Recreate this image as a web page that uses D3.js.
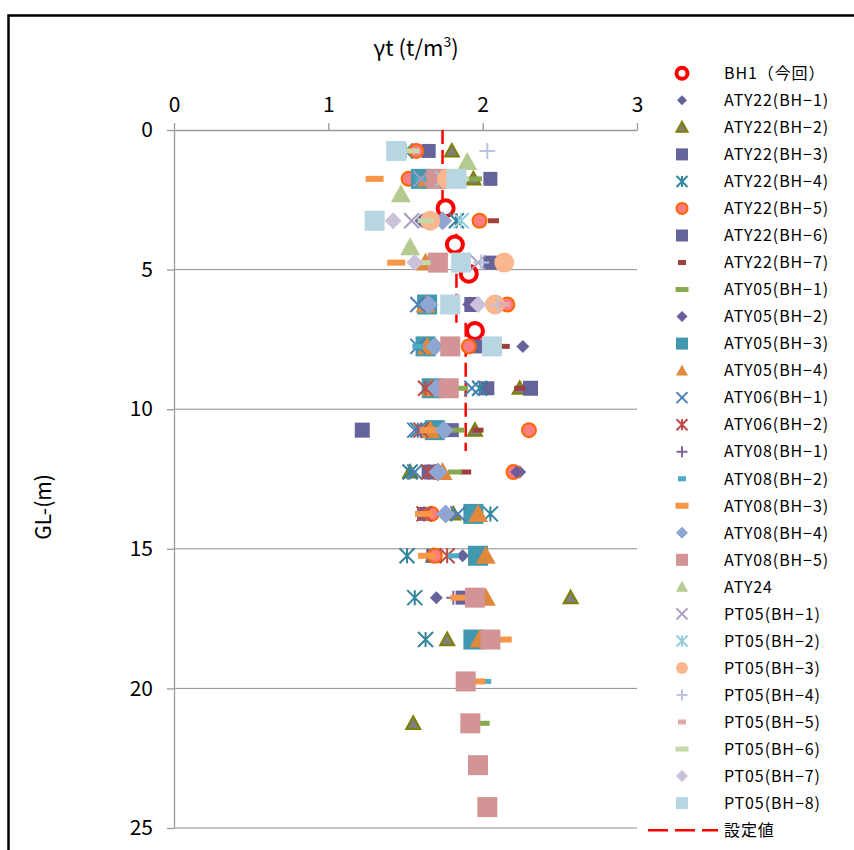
<!DOCTYPE html>
<html><head><meta charset="utf-8">
<script src="https://cdn.jsdelivr.net/npm/d3@7"></script>
<style>body{margin:0;background:#fff}</style>
</head><body>
<svg id="c" width="854" height="850"></svg>
<script>
// ---- tick labels / axes ----
const xTicks = [0, 1, 2, 3];
const yTicks = [0, 5, 10, 15, 20, 25];
const xTitle = "γt (t/m";
const yTitle = "GL-(m)";

// ---- series values: [γt, depth] ----
const bh1       = [[1.76,2.8],[1.82,4.1],[1.91,5.15],[1.95,7.2]];
const aty22_bh1 = [[1.62,1.75],[1.60,3.25],[1.91,6.25],[2.26,7.75],[1.72,10.75],[2.24,12.25],[1.87,15.25],[1.70,16.75]];
const aty22_bh2 = [[1.80,0.75],[1.94,1.75],[2.24,9.25],[1.95,10.75],[1.53,12.25],[1.81,13.75],[1.68,15.25],[2.57,16.75],[1.77,18.25],[1.55,21.25]];
const aty22_bh3 = [[1.65,0.75],[2.05,1.75],[1.65,3.25],[2.05,4.75],[1.96,7.75],[2.03,9.25],[1.80,10.75],[1.65,12.25],[1.62,13.75],[1.68,15.25],[1.87,16.75]];
const aty22_bh4 = [[1.50,0.75],[1.83,3.25],[1.98,9.25],[1.58,10.75],[1.53,12.25],[2.05,13.75],[1.51,15.25],[1.56,16.75],[1.63,18.25]];
const aty22_bh5 = [[1.57,0.75],[1.52,1.75],[1.98,3.25],[2.16,6.25],[1.91,7.75],[2.30,10.75],[2.20,12.25],[1.67,13.75],[1.69,15.25]];
const aty22_bh6 = [[1.66,1.75],[1.93,6.25],[2.31,9.25],[1.22,10.75],[1.67,12.25]];
const aty22_bh7 = [[2.07,3.25],[2.14,7.75],[2.24,9.25],[1.97,10.75],[1.89,12.25]];
const aty05_bh1 = [[1.95,1.75],[1.86,9.25],[1.84,10.75],[1.82,12.25],[1.97,19.75],[2.00,21.25]];
const aty05_bh2 = [[1.62,1.75],[1.66,3.25],[1.93,6.25],[2.22,12.25]];
const aty05_bh3 = [[1.60,1.75],[1.64,6.25],[1.63,7.75],[1.67,9.25],[1.69,10.75],[1.94,13.75],[1.97,15.25],[1.94,18.25]];
const aty05_bh4 = [[1.64,1.75],[1.63,4.75],[1.63,6.25],[1.64,7.75],[1.67,9.25],[1.66,10.75],[1.74,12.25],[1.97,13.75],[2.02,15.25],[2.02,16.75],[1.98,18.25]];
const aty06_bh1 = [[1.58,6.25],[1.58,7.75],[1.93,9.25],[1.56,10.75],[1.56,12.25],[1.84,13.75]];
const aty06_bh2 = [[1.63,9.25],[1.60,10.75],[1.65,12.25],[1.62,13.75],[1.77,15.25]];
const aty08_bh1 = [[1.60,10.75],[1.81,16.75]];
const aty08_bh2 = [[1.60,1.75],[1.58,7.75],[1.81,15.25],[2.02,19.75]];
const aty08_bh3 = [[1.30,1.75],[1.44,4.75],[1.65,10.75],[1.62,13.75],[1.64,15.25],[1.85,16.75],[2.13,18.25],[1.96,19.75]];
const aty08_bh4 = [[1.74,3.25],[1.65,6.25],[1.69,7.75],[1.70,9.25],[1.75,10.75],[1.71,12.25],[1.76,13.75]];
const aty08_bh5 = [[1.70,1.75],[1.71,4.75],[1.79,7.75],[1.78,9.25],[1.95,16.75],[2.05,18.25],[1.89,19.75],[1.92,21.25],[1.97,22.75],[2.03,24.25]];
const aty24     = [[1.90,1.15],[1.47,2.3],[1.53,4.2]];
const pt05_bh1  = [[1.60,1.75],[1.54,3.25],[1.97,4.75]];
const pt05_bh2  = [[1.74,1.75],[1.86,3.25]];
const pt05_bh3  = [[1.77,1.75],[1.66,3.25],[2.14,4.75],[2.08,6.25]];
const pt05_bh4  = [[2.03,0.75],[1.99,4.75],[2.10,6.25]];
const pt05_bh5  = [[2.14,6.25]];
const pt05_bh6  = [[1.54,0.75],[1.86,1.75],[1.63,3.25],[1.61,4.75]];
const pt05_bh7  = [[1.42,3.25],[1.56,4.75],[1.97,6.25]];
const pt05_bh8  = [[1.44,0.75],[1.83,1.75],[1.30,3.25],[1.86,4.75],[1.79,6.25],[2.06,7.75]];
// design value (設定値): separate vertical segments, null = gap
const design    = [[1.74,0],[1.74,3.0],null,[1.83,3.0],[1.83,6.9],null,[1.89,6.9],[1.89,11.5]];

const seriesNames = ["BH1（今回）","ATY22(BH−1)","ATY22(BH−2)","ATY22(BH−3)","ATY22(BH−4)","ATY22(BH−5)","ATY22(BH−6)","ATY22(BH−7)",
  "ATY05(BH−1)","ATY05(BH−2)","ATY05(BH−3)","ATY05(BH−4)","ATY06(BH−1)","ATY06(BH−2)",
  "ATY08(BH−1)","ATY08(BH−2)","ATY08(BH−3)","ATY08(BH−4)","ATY08(BH−5)","ATY24",
  "PT05(BH−1)","PT05(BH−2)","PT05(BH−3)","PT05(BH−4)","PT05(BH−5)","PT05(BH−6)","PT05(BH−7)","PT05(BH−8)"];
const seriesData = [bh1,aty22_bh1,aty22_bh2,aty22_bh3,aty22_bh4,aty22_bh5,aty22_bh6,aty22_bh7,
  aty05_bh1,aty05_bh2,aty05_bh3,aty05_bh4,aty06_bh1,aty06_bh2,
  aty08_bh1,aty08_bh2,aty08_bh3,aty08_bh4,aty08_bh5,aty24,
  pt05_bh1,pt05_bh2,pt05_bh3,pt05_bh4,pt05_bh5,pt05_bh6,pt05_bh7,pt05_bh8];
const designName = "設定値";

// ---- marker styles (shape, plot size, legend size, colours) ----
const styles = [
  {shape:"circle",  s:16, ls:11, fill:"#fff", stroke:"#FF0000", sw:4},
  {shape:"diamond", s:13, ls:10, fill:"#65639B"},
  {shape:"triangle",s:14, ls:11, fill:"#7F7F7F", stroke:"#7F7F00", sw:2},
  {shape:"square",  s:14, ls:12, fill:"#64639A"},
  {shape:"star",    s:15, ls:11, stroke:"#31859C", sw:2},
  {shape:"circle",  s:14, ls:11, fill:"#FF7C80", stroke:"#FF6600", sw:2},
  {shape:"square",  s:15, ls:12, fill:"#64639A"},
  {shape:"dash",    s:11, ls:8, dh:5, fill:"#A0403E"},
  {shape:"dash",    s:14, ls:13, dh:5, fill:"#8AA84F"},
  {shape:"diamond", s:13, ls:11, fill:"#6E5B9C"},
  {shape:"square",  s:20, ls:12, fill:"#4198AF"},
  {shape:"triangle",s:20, ls:12, fill:"#E0883C"},
  {shape:"x",       s:15, ls:11, stroke:"#4A7EBB", sw:2},
  {shape:"star",    s:15, ls:11, stroke:"#BE4B48", sw:2},
  {shape:"plus",    s:14, ls:11, stroke:"#7F63A1", sw:2},
  {shape:"dash",    s:11, ls:8, dh:5, fill:"#4BACC6"},
  {shape:"dash",    s:18, ls:13, dh:6, fill:"#F79646"},
  {shape:"diamond", s:19, ls:12, fill:"#8FA5D2"},
  {shape:"square",  s:20, ls:12, fill:"#D29494"},
  {shape:"triangle",s:20, ls:12, fill:"#B4CA91"},
  {shape:"x",       s:15, ls:11, stroke:"#A99BC0", sw:2},
  {shape:"star",    s:15, ls:11, stroke:"#93CEDD", sw:2},
  {shape:"circle",  s:20, ls:12, fill:"#FAB78F"},
  {shape:"plus",    s:16, ls:11, stroke:"#B9C4DF", sw:2},
  {shape:"dash",    s:11, ls:8, dh:5, fill:"#E2AAAA"},
  {shape:"dash",    s:16, ls:13, dh:5, fill:"#C5D9A8"},
  {shape:"diamond", s:17, ls:12, fill:"#CBC2DA"},
  {shape:"square",  s:20, ls:12, fill:"#B8D6E2"}
];

const FONT = "'Noto Sans CJK JP','Noto Sans',sans-serif";
const svg = d3.select("#c");
const x = d3.scaleLinear().domain([0,3]).range([174,637]);
const y = d3.scaleLinear().domain([0,25]).range([130,828]);

// frame
svg.append("rect").attr("x",8.5).attr("y",15.5).attr("width",870).attr("height",870)
  .attr("fill","#fff").attr("stroke","#000").attr("stroke-width",2.5);

// gridlines
svg.append("g").selectAll("line").data(yTicks.filter(d=>d>0)).join("line")
  .attr("x1",x(0)).attr("x2",x(3)).attr("y1",d=>y(d)).attr("y2",d=>y(d))
  .attr("stroke","#8C8C8C").attr("stroke-width",1);

// axes
const gx = svg.append("g").attr("transform",`translate(0,${y(0)})`)
  .call(d3.axisTop(x).tickValues(xTicks).tickFormat(d3.format("d")).tickSizeInner(7).tickSizeOuter(0).tickPadding(11));
const gy = svg.append("g").attr("transform",`translate(${x(0)},0)`)
  .call(d3.axisLeft(y).tickValues(yTicks).tickFormat(d3.format("d")).tickSizeInner(7).tickSizeOuter(0).tickPadding(14));
[gx,gy].forEach(g=>{
  g.selectAll("path,line").attr("stroke","#9A9A9A").attr("stroke-width",1.3);
  g.selectAll("text").attr("font-family",FONT).attr("font-size",21).attr("fill","#000");
});

// titles
const tt = svg.append("text").attr("x",416).attr("y",56).attr("text-anchor","middle")
  .attr("font-family",FONT).attr("font-size",22).attr("fill","#000");
tt.append("tspan").text(xTitle);
tt.append("tspan").attr("font-size",14).attr("dy",-9).text("3");
tt.append("tspan").attr("dy",9).text(")");
svg.append("text").attr("transform","translate(51,507) rotate(-90)").attr("text-anchor","middle")
  .attr("font-family",FONT).attr("font-size",21).attr("fill","#000").text(yTitle);

// marker drawing
function drawMarker(g, st, s){
  const h = s/2;
  if(st.shape==="circle"){
    g.append("circle").attr("r",h).attr("fill",st.fill).attr("stroke",st.stroke||"none").attr("stroke-width",st.sw||0);
  } else if(st.shape==="square"){
    g.append("rect").attr("x",-h).attr("y",-h).attr("width",s).attr("height",s).attr("fill",st.fill);
  } else if(st.shape==="diamond"){
    g.append("path").attr("d",`M0,${-h}L${h},0L0,${h}L${-h},0Z`).attr("fill",st.fill);
  } else if(st.shape==="triangle"){
    g.append("path").attr("d",`M0,${-h}L${h},${h*0.8}L${-h},${h*0.8}Z`).attr("fill",st.fill)
      .attr("stroke",st.stroke||"none").attr("stroke-width",st.sw||0).attr("stroke-linejoin","miter");
  } else if(st.shape==="x"){
    g.append("path").attr("d",`M${-h},${-h}L${h},${h}M${-h},${h}L${h},${-h}`).attr("stroke",st.stroke).attr("stroke-width",st.sw).attr("fill","none");
  } else if(st.shape==="star"){
    g.append("path").attr("d",`M${-h},${-h}L${h},${h}M${-h},${h}L${h},${-h}M0,${-h}L0,${h}`).attr("stroke",st.stroke).attr("stroke-width",st.sw).attr("fill","none");
  } else if(st.shape==="plus"){
    g.append("path").attr("d",`M${-h},0L${h},0M0,${-h}L0,${h}`).attr("stroke",st.stroke).attr("stroke-width",st.sw).attr("fill","none");
  } else if(st.shape==="dash"){
    g.append("rect").attr("x",-h).attr("y",-st.dh/2).attr("width",s).attr("height",st.dh).attr("fill",st.fill);
  }
}

// design line (drawn beneath markers)
const line = d3.line().defined(d=>d!==null).x(d=>x(d[0])).y(d=>y(d[1]));
svg.append("path").datum(design).attr("d",line).attr("fill","none")
  .attr("stroke","#FF0000").attr("stroke-width",2.5).attr("stroke-dasharray","14,6");

// series markers
seriesData.forEach((data,i)=>{
  const st = styles[i];
  const g = svg.append("g");
  data.forEach(p=>{
    const m = g.append("g").attr("transform",`translate(${x(p[0])},${y(p[1])})`);
    drawMarker(m, st, st.s);
  });
});

// legend
const lg = svg.append("g");
const ly0 = 73.3, ldy = 27.03;
seriesNames.forEach((n,i)=>{
  const yy = ly0 + i*ldy;
  const m = lg.append("g").attr("transform",`translate(682,${yy})`);
  drawMarker(m, styles[i], styles[i].ls);
  lg.append("text").attr("x",724).attr("y",yy).attr("dy","0.36em").attr("letter-spacing",0.9)
    .attr("font-family",FONT).attr("font-size",16).attr("fill","#000").text(n);
});
const yd = ly0 + seriesNames.length*ldy;
lg.append("line").attr("x1",648).attr("x2",718).attr("y1",yd).attr("y2",yd)
  .attr("stroke","#FF0000").attr("stroke-width",2.5).attr("stroke-dasharray","20,7");
lg.append("text").attr("x",724).attr("y",yd).attr("dy","0.36em").attr("letter-spacing",0.9)
  .attr("font-family",FONT).attr("font-size",16).attr("fill","#000").text(designName);
</script>
</body></html>
